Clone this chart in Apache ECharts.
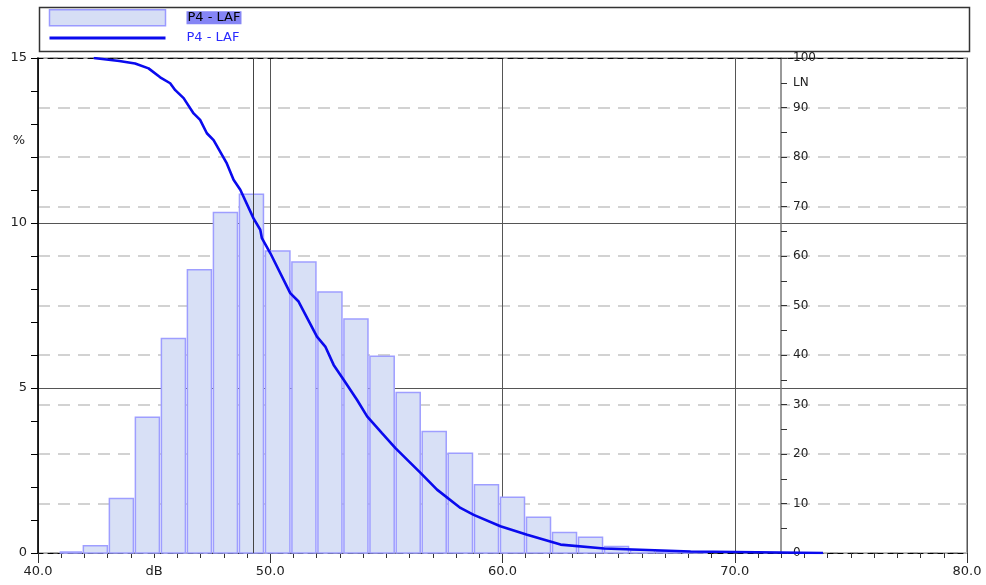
<!DOCTYPE html>
<html>
<head>
<meta charset="utf-8">
<script src="https://cdn.jsdelivr.net/npm/echarts@6/dist/echarts.min.js"></script>
<style>
html,body{margin:0;padding:0;background:#fff;}
#chart{width:986px;height:585px;}
</style>
</head>
<body>
<div id="chart"></div>
<script>
// ---- data ----
const seriesName = 'P4 - LAF';
// histogram bins (dB): lower and upper edges
const binLow  = [40.92, 41.91, 43.03, 44.15, 45.27, 46.39, 47.51, 48.63, 49.75, 50.89, 52.01, 53.13, 54.25, 55.38, 56.50, 57.62, 58.75, 59.87, 60.99, 62.11, 63.23, 64.35, 65.47, 66.59, 67.72];
const binHigh = [41.91, 43.03, 44.15, 45.27, 46.39, 47.51, 48.63, 49.75, 50.89, 52.01, 53.13, 54.25, 55.38, 56.50, 57.62, 58.75, 59.87, 60.99, 62.11, 63.23, 64.35, 65.47, 66.59, 67.72, 68.84];
// percentage of time in each bin (%)
const binPct  = [0.03, 0.22, 1.65, 4.11, 6.50, 8.58, 10.32, 10.87, 9.15, 8.82, 7.91, 7.09, 5.96, 4.86, 3.68, 3.02, 2.07, 1.69, 1.08, 0.62, 0.48, 0.20, 0.08, 0.04, 0.02];
// cumulative exceedance curve LN: level (dB) and N (%)
const lnLevel = [42.4, 43.5, 44.18, 44.76, 45.26, 45.69, 45.91, 46.27, 46.7, 46.98, 47.27, 47.56, 48.13, 48.42, 48.71, 49.28, 49.57, 49.64, 50.0, 50.86, 51.22, 52.01, 52.37, 52.73, 53.16, 53.74, 54.17, 54.81, 55.39, 56.47, 57.18, 58.19, 58.76, 59.91, 61.06, 62.5, 64.37, 68.1, 70.0, 73.8];
const lnValue = [100, 99.4, 98.9, 97.9, 96.1, 94.9, 93.5, 91.9, 88.8, 87.5, 84.8, 83.4, 78.7, 75.4, 73.4, 67.6, 65.3, 63.6, 60.6, 52.5, 50.8, 43.7, 41.7, 38.0, 35.0, 30.9, 27.6, 24.2, 21.2, 16.2, 12.8, 9.1, 7.7, 5.4, 3.7, 1.7, 0.9, 0.3, 0.2, 0.0];
// marker line position (dB)
const markerLevel = 49.25;
// axis ranges
const xMin = 40, xMax = 80, xStep = 10;
const pctMax = 15, pctStep = 5;
const lnMax = 100, lnStep = 10;
const lnAxisAt = 72;

const FONT = 'DejaVu Sans';
const histData = binLow.map((lo, i) => [lo, binHigh[i], binPct[i]]);
const lnData = lnLevel.map((x, i) => [x, lnValue[i]]);

const chart = echarts.init(document.getElementById('chart'));
const gridLeft = 38, gridRight = 19;
const plotW = 986 - gridLeft - gridRight;
const lnOffset = -Math.round((xMax - lnAxisAt) / (xMax - xMin) * plotW);

chart.setOption({
  animation: false,
  backgroundColor: '#fff',
  textStyle: { fontFamily: FONT },
  graphic: [{
    type: 'rect', left: 37, top: 5, z: 0,
    shape: { width: 930, height: 44 },
    style: { fill: 'none', stroke: '#333', lineWidth: 1.5 }
  }],
  legend: {
    orient: 'vertical', left: 48, top: 9, padding: 0,
    itemWidth: 116, itemHeight: 16, itemGap: 5,
    selectedMode: false,
    data: [
      { name: seriesName, icon: 'rect',
        itemStyle: { color: '#d6def5', borderColor: '#9a9aff', borderWidth: 1.5 } },
      { name: 'LN curve', itemStyle: { opacity: 0 }, lineStyle: { width: 3, color: '#0a0aee' } }
    ],
    formatter: function (name) {
      return name === seriesName ? '{s| }{h|P4 - LAF}' : '{s| }{b|P4 - LAF}';
    },
    textStyle: {
      fontFamily: FONT, fontSize: 13,
      rich: {
        s: { width: 16 },
        h: { fontFamily: FONT, fontSize: 13, color: '#000', backgroundColor: '#8585f5', lineHeight: 18, padding: [0, 1, 0, 1] },
        b: { fontFamily: FONT, fontSize: 13, color: '#2a2aff', lineHeight: 18 }
      }
    }
  },
  grid: {
    left: gridLeft, right: gridRight, top: 58, bottom: 32,
    show: true, borderColor: '#8a8a8a', borderWidth: 1.5
  },
  xAxis: [{
    type: 'value', min: xMin, max: xMax, interval: xStep, position: 'bottom',
    axisLine: { show: true, lineStyle: { color: '#000', width: 1, type: [5, 5] } },
    axisTick: { show: true, length: 10, lineStyle: { color: '#333' } },
    minorTick: { show: true, splitNumber: 10, length: 5, lineStyle: { color: '#333' } },
    splitLine: { show: true, lineStyle: { color: '#555', width: 1 } },
    axisLabel: { fontFamily: FONT, fontSize: 13, color: '#222', margin: 12,
      formatter: v => v.toFixed(1) }
  }, {
    type: 'value', min: xMin, max: xMax, interval: 5, position: 'bottom',
    axisLine: { show: false }, axisTick: { show: false }, splitLine: { show: false },
    axisLabel: { fontFamily: FONT, fontSize: 13, color: '#222', margin: 12,
      formatter: v => (v === 45 ? 'dB' : '') }
  }, {
    type: 'value', min: xMin, max: xMax, interval: xStep, position: 'top',
    axisLine: { show: true, lineStyle: { color: '#000', width: 1, type: [5, 5] } },
    axisTick: { show: false }, axisLabel: { show: false }, splitLine: { show: false }
  }],
  yAxis: [{
    type: 'value', min: 0, max: pctMax, interval: pctStep, position: 'left',
    name: '%', nameLocation: 'end', nameGap: -83,
    nameTextStyle: { fontFamily: FONT, fontSize: 13, color: '#222', align: 'right', verticalAlign: 'middle', padding: [0, 13, 0, 0] },
    axisLine: { show: true, lineStyle: { color: '#000', width: 1.5 } },
    axisTick: { show: true, length: 7, lineStyle: { color: '#000' } },
    minorTick: { show: true, splitNumber: 5, length: 7, lineStyle: { color: '#000' } },
    splitLine: { show: true, lineStyle: { color: '#555', width: 1 } },
    axisLabel: { fontFamily: FONT, fontSize: 13, color: '#222', margin: 11 }
  }, {
    type: 'value', min: 0, max: lnMax, interval: lnStep, position: 'right', offset: lnOffset,
    name: 'LN', nameLocation: 'end', nameGap: -25,
    nameTextStyle: { fontFamily: FONT, fontSize: 12, color: '#222', align: 'left', verticalAlign: 'middle', padding: [0, 0, 0, 12] },
    axisLine: { show: true, lineStyle: { color: '#777', width: 1.5 } },
    axisTick: { show: true, length: 6, lineStyle: { color: '#333' } },
    minorTick: { show: true, splitNumber: 2, length: 6, lineStyle: { color: '#333' } },
    splitLine: { show: true, lineStyle: { color: '#c4c4c4', width: 1.5, type: [12, 8] } },
    axisLabel: { fontFamily: FONT, fontSize: 12, color: '#222', margin: 12 }
  }],
  series: [{
    name: seriesName,
    type: 'custom',
    xAxisIndex: 0, yAxisIndex: 0,
    itemStyle: { color: '#d6def5', borderColor: '#9a9aff', borderWidth: 1.5 },
    encode: { x: [0, 1], y: 2 },
    data: histData,
    renderItem: function (params, api) {
      const p0 = api.coord([api.value(0), api.value(2)]);
      const p1 = api.coord([api.value(1), 0]);
      return {
        type: 'rect',
        shape: { x: p0[0] + 1, y: p0[1], width: p1[0] - p0[0] - 2, height: p1[1] - p0[1] },
        style: { fill: '#d8e0f6', stroke: '#9e9eff', lineWidth: 1.5 }
      };
    },
    markLine: {
      silent: true, symbol: 'none', label: { show: false },
      lineStyle: { color: '#444', type: 'solid', width: 1 },
      data: [{ xAxis: markerLevel }]
    },
    z: 2
  }, {
    name: 'LN curve',
    type: 'line',
    xAxisIndex: 0, yAxisIndex: 1,
    data: lnData,
    symbol: 'none',
    smooth: false,
    lineStyle: { color: '#0a0aee', width: 2.6 },
    itemStyle: { color: '#0a0aee' },
    z: 5
  }]
});
</script>
</body>
</html>
